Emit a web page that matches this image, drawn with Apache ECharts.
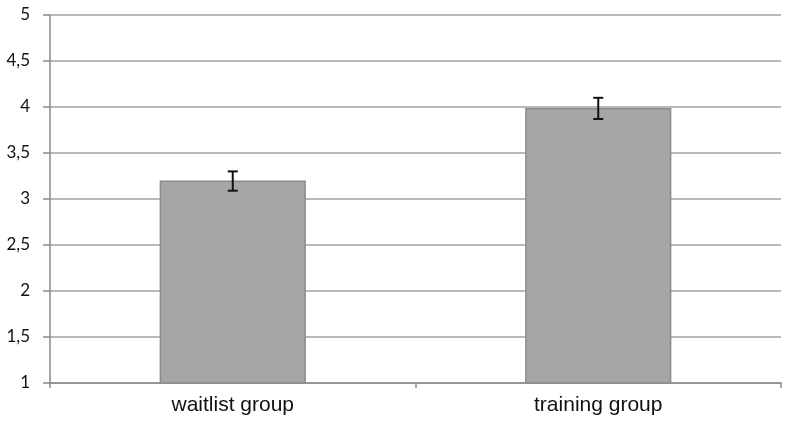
<!DOCTYPE html>
<html>
<head>
<meta charset="utf-8">
<script src="https://cdn.jsdelivr.net/npm/echarts@6/dist/echarts.min.js"></script>
<style>
html,body{margin:0;padding:0;background:#fff;}
#c{width:787px;height:422px;}
</style>
</head>
<body>
<div id="c"></div>
<script>
const categories = ['waitlist group', 'training group'];
const means = [3.2, 3.99];
const errLow = [3.09, 3.87];
const errHigh = [3.30, 4.10];
const yTicks = [1, 1.5, 2, 2.5, 3, 3.5, 4, 4.5, 5];

const chart = echarts.init(document.getElementById('c'), null, {renderer: 'canvas'});
const errData = categories.map((c, i) => [i, errLow[i], errHigh[i]]);

chart.setOption({
  animation: false,
  grid: {left: 50, right: 6, top: 15, bottom: 39, containLabel: false},
  xAxis: {
    type: 'category',
    data: categories,
    boundaryGap: true,
    axisLine: {show: true, lineStyle: {color: '#8a8a8a', width: 1.5}},
    axisTick: {show: true, interval: 0, length: 5, lineStyle: {color: '#8a8a8a', width: 1.5}},
    axisLabel: {margin: 12, fontFamily: 'Liberation Sans, Arial, sans-serif', fontSize: 21, color: '#111'}
  },
  yAxis: {
    type: 'value',
    min: 1, max: 5, interval: 0.5,
    axisLine: {show: true, lineStyle: {color: '#8a8a8a', width: 1.5}},
    axisTick: {show: true, length: 7, lineStyle: {color: '#8a8a8a', width: 1.5}},
    splitLine: {show: true, lineStyle: {color: '#a0a0a0', width: 1.5}},
    axisLabel: {
      margin: 20, fontFamily: 'Lato, "Open Sans", sans-serif', fontSize: 17, color: '#111',
      formatter: v => {
        const t = yTicks.find(x => Math.abs(x - v) < 1e-9);
        return t === undefined ? '' : String(t).replace('.', ',');
      }
    }
  },
  series: [
    {
      type: 'bar',
      data: means,
      barWidth: '40%',
      itemStyle: {color: '#a6a6a6', borderColor: '#8c8c8c', borderWidth: 1.5},
      z: 2
    },
    {
      type: 'custom',
      data: errData,
      z: 5,
      renderItem: (params, api) => {
        const x = api.value(0);
        const lo = api.coord([x, api.value(1)]);
        const hi = api.coord([x, api.value(2)]);
        const hw = 5;
        const style = {stroke: '#111', lineWidth: 2, fill: null};
        return {
          type: 'group',
          children: [
            {type: 'line', shape: {x1: lo[0], y1: lo[1], x2: hi[0], y2: hi[1]}, style},
            {type: 'line', shape: {x1: hi[0] - hw, y1: hi[1], x2: hi[0] + hw, y2: hi[1]}, style},
            {type: 'line', shape: {x1: lo[0] - hw, y1: lo[1], x2: lo[0] + hw, y2: lo[1]}, style}
          ]
        };
      }
    }
  ]
});
</script>
</body>
</html>
